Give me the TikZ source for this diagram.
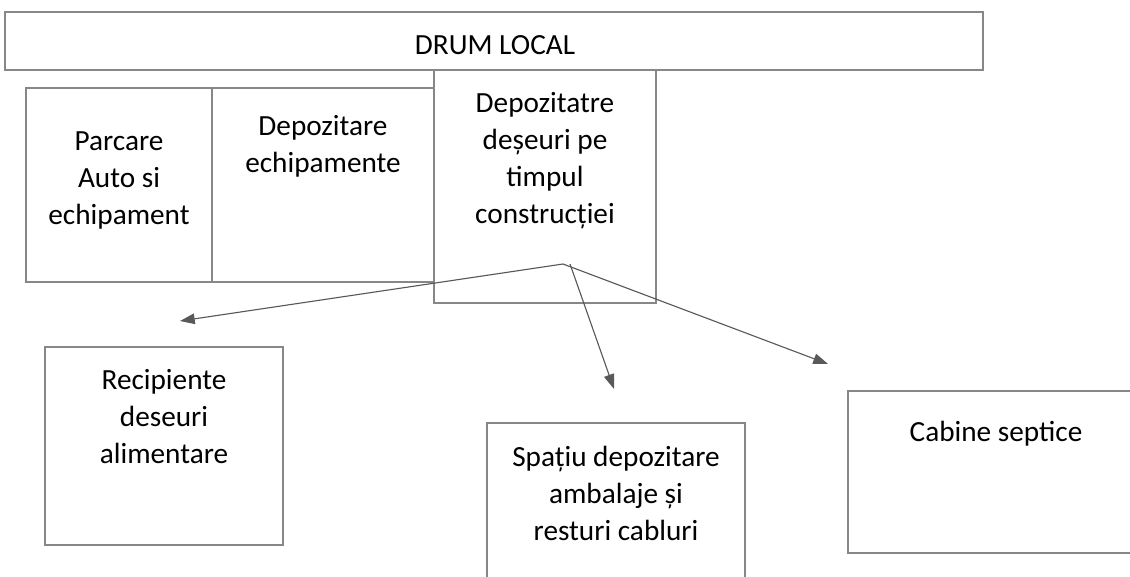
\documentclass[tikz,border=0pt]{standalone}
\usepackage{fontspec}
\setmainfont{Carlito}
\usetikzlibrary{arrows.meta, positioning}

\begin{document}
\begin{tikzpicture}[
    x=0.025cm, y=-0.025cm,
    area/.style={rectangle, draw=black!47, line width=1.5pt, fill=white, inner sep=0pt},
    lbl/.style={text centered, align=center, inner sep=0pt, font=\fontsize{20.8}{26.3}\selectfont},
    flow/.style={-{Triangle[length=10.5pt, width=7.5pt]}, line width=0.8pt, black!65}
]
    \path[use as bounding box] (0,0) rectangle (1130,577);
    \clip (0,0) rectangle (1130,577);

    % ========== Road and site (top) ==========
    \node (drum) [area, minimum width=24.45cm, minimum height=1.45cm] at (494, 41) {};
    \node (parcare) [area, minimum width=4.65cm, minimum height=4.85cm] at (119, 185) {};
    \node (echip) [area, minimum width=5.55cm, minimum height=4.85cm] at (323, 185) {};
    \node (deseuri) [area, minimum width=5.55cm, minimum height=5.825cm] at (545, 186.5) {};

    % ========== Waste areas (bottom) ==========
    \node (recip) [area, minimum width=5.95cm, minimum height=4.95cm] at (164, 446) {};
    \node (spatiu) [area, minimum width=6.45cm, minimum height=4.9cm] at (616, 521) {};
    \node (cabine) [area, minimum width=7.4cm, minimum height=4.05cm] at (996, 472) {};

    % Labels
    \node (drum_txt) [lbl] at (495, 45) {DRUM LOCAL};
    \node (parcare_txt) [lbl] at (119, 180) {Parcare\\Auto si\\echipament};
    \node (echip_txt) [lbl] at (323, 146) {Depozitare\\echipamente};
    \node (deseuri_txt) [lbl] at (545, 161) {Depozitatre\\deșeuri pe\\timpul\\construcției};
    \node (recip_txt) [lbl] at (164, 417) {Recipiente\\deseuri\\alimentare};
    \node (spatiu_txt) [lbl] at (616, 493) {Spațiu depozitare\\ambalaje și\\resturi cabluri};
    \node (cabine_txt) [lbl] at (996, 434) {Cabine septice};

    % ========== Arrows ==========
    \coordinate (src) at (563, 264);
    \coordinate (src_b) at (570, 264);
    \coordinate (to_recip) at (180, 321);
    \coordinate (to_spatiu) at (614, 389);
    \coordinate (to_cabine) at (828, 364);

    \draw [flow] (src) -- (to_recip);
    \draw [flow] (src_b) -- (to_spatiu);
    \draw [flow] (src) -- (to_cabine);
\end{tikzpicture}
\end{document}
